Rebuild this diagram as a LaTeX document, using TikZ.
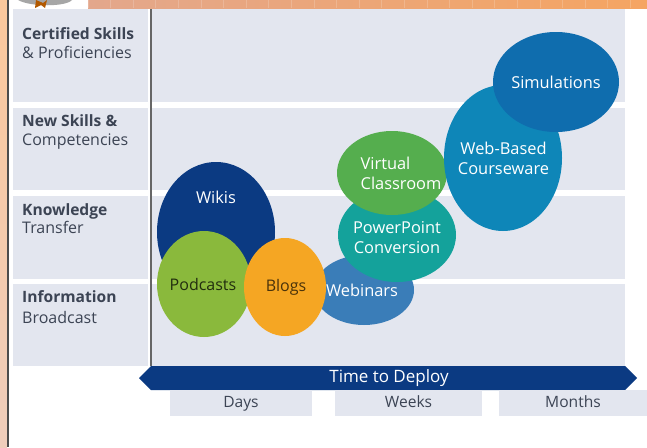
\documentclass[tikz,border=0pt]{standalone}
\usepackage{fontspec}
\setmainfont{Open Sans}
\usetikzlibrary{shapes.geometric}
\definecolor{band}{HTML}{E3E6EF}
\definecolor{navy}{HTML}{0B3A82}
\definecolor{txt}{HTML}{3C4454}
\definecolor{orangeA}{HTML}{F5A562}
\definecolor{orangeB}{HTML}{E3A78C}
\definecolor{orangeL}{HTML}{FBC89C}
\definecolor{orangeM}{HTML}{EFCDBB}
\definecolor{cWiki}{HTML}{0B3A82}
\definecolor{cWebinar}{HTML}{3A7DB8}
\definecolor{cPod}{HTML}{8AB93C}
\definecolor{cVirt}{HTML}{55AE4E}
\definecolor{cBlog}{HTML}{F5A623}
\definecolor{cPpt}{HTML}{14A29B}
\definecolor{cWeb}{HTML}{0E86B8}
\definecolor{cSim}{HTML}{0F6DAE}
\tikzset{
  x=1pt,y=-1pt,
  bandbox/.style={fill=band,draw=none},
  rowb/.style={anchor=base west,inner sep=0pt,text=txt,font=\fontsize{15.6}{18}\selectfont\bfseries},
  rowr/.style={anchor=base west,inner sep=0pt,text=txt,font=\fontsize{16}{18}\selectfont},
  blob/.style={ellipse,draw=none,inner sep=0pt},
  blobtext/.style={inner sep=0pt,align=center,text=white,font=\fontsize{16.4}{20}\selectfont},
  darktext/.style={inner sep=0pt,font=\fontsize{16}{20}\selectfont},
  axisbox/.style={fill=band,draw=none,inner sep=0pt,text=txt,font=\fontsize{15.6}{18}\selectfont,text height=12pt,text depth=3pt},
}
\begin{document}
\begin{tikzpicture}
\useasboundingbox (0,0) rectangle (647,447);
\fill[white] (0,0) rectangle (647,447);
% slide decoration
\fill[top color=orangeL,bottom color=orangeM] (0,0) rectangle (7,447);
\fill[left color=orangeB,right color=orangeA] (88,0) rectangle (647,8);
\foreach \k in {0,...,24} \draw[white,opacity=.18,line width=1pt] (88+22.6*\k,0) -- (88+22.6*\k,8);
\fill[black!70] (7,0) rectangle (8.5,447);
\fill[white] (8.5,0) rectangle (88,8);
\fill[black!35] (18,0) -- (72,0) .. controls (66,7) and (30,7) .. (18,0) -- cycle;
\fill[orange!70!black] (36,0) -- (43,3) -- (47,0) -- (45,8) -- (41,5) -- (35,8) -- cycle;
% bands
\fill[bandbox] (13,9) rectangle (625,102);
\fill[bandbox] (13,108) rectangle (625,190);
\fill[bandbox] (13,196) rectangle (625,279);
\fill[bandbox] (13,284) rectangle (625,366);
% axis
\coordinate (axisTop) at (151,9);
\coordinate (axisBottom) at (151,366);
\draw[white,line width=4pt] (149.5,9) -- (149.5,366);
\draw[black!60,line width=1.2pt] (axisTop) -- (axisBottom);
% row heads
\node[rowb] (r1a) at (22,39) {Certified Skills};
\node[rowr] (r1b) at (22,58) {\& Proficiencies};
\node[rowb] (r2a) at (22,126) {New Skills \&};
\node[rowr] (r2b) at (22,145) {Competencies};
\node[rowb] (r3a) at (22,215) {Knowledge};
\node[rowr] (r3b) at (22,233) {Transfer};
\node[rowb] (r4a) at (22,302) {Information};
\node[rowr] (r4b) at (22,323) {Broadcast};
% blobs
\node[blob,minimum width=118,minimum height=140,fill=cWiki] (wikis) at (216,232) {};
\node[blobtext] (wikisT) at (216,197) {Wikis};
\node[blob,minimum width=100,minimum height=70,fill=cWebinar] (webinars) at (364,290) {};
\node[blobtext] (webinarsT) at (362,290) {Webinars};
\node[blob,minimum width=94,minimum height=106,fill=cPod] (podcasts) at (204,284) {};
\node[darktext,text=black!75!cPod] (podcastsT) at (203,284) {Podcasts};
\node[blob,minimum width=82,minimum height=98,fill=cBlog] (blogs) at (285,287) {};
\node[darktext,text=black!70!cBlog] (blogsT) at (286,287) {Blogs};
\node[blob,minimum width=118,minimum height=94,fill=cPpt] (ppt) at (397,235) {};
\node[blobtext] (pptT) at (397,237.5) {PowerPoint\\Conversion};
\node[blob,minimum width=110,minimum height=84,fill=cVirt] (virtual) at (392,173) {};
\node[blobtext,align=left] (virtualT) at (401,173) {Virtual\\Classroom};
\node[blob,minimum width=118,minimum height=146,fill=cWeb] (web) at (503,158) {};
\node[blobtext] (webT) at (503.5,158) {Web-Based\\Courseware};
\node[blob,minimum width=126,minimum height=100,fill=cSim] (sim) at (556,82) {};
\node[blobtext] (simT) at (556,82) {Simulations};
% time arrow
\fill[navy] (139,378) -- (151,366) -- (625,366) -- (637,378) -- (625,390) -- (151,390) -- cycle;
\node[text=white,font=\fontsize{17}{20}\selectfont] (deploy) at (389,378) {Time to Deploy};
% axis boxes
\node[axisbox,minimum width=142,minimum height=26] (days) at (241,403) {Days};
\node[axisbox,minimum width=147,minimum height=26] (weeks) at (408.5,403) {Weeks};
\node[axisbox,minimum width=148,minimum height=26] (months) at (573,403) {Months};
\end{tikzpicture}
\end{document}
